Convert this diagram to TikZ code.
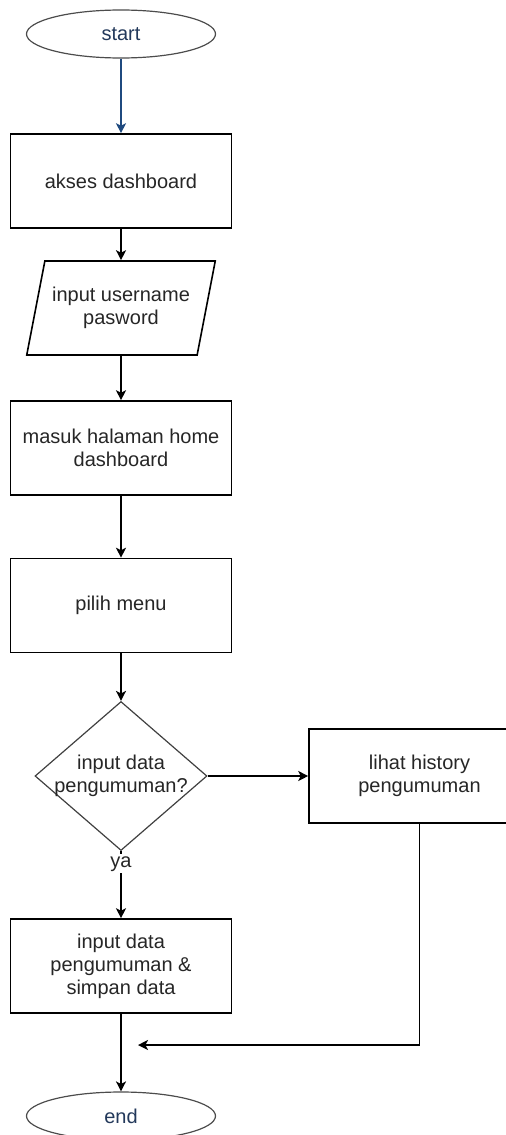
\documentclass[tikz,border=0pt]{standalone}
\usepackage{fontspec}
\setmainfont{Liberation Sans}
\usepackage{tikz}
\usetikzlibrary{shapes.geometric,arrows.meta}

\definecolor{termblue}{HTML}{23395B}
\definecolor{linkblue}{HTML}{1F4A7F}

\begin{document}
\begin{tikzpicture}[node distance=70pt,
    every node/.style={font=\fontsize{10pt}{11.5pt}\selectfont, text=black!85, align=center},
    >={Stealth[length=5pt,width=5pt,inset=1.3pt]},
    line width=0.8pt,
    terminal/.style={draw=black!70, line width=0.6pt, ellipse, minimum width=94.5pt, minimum height=24pt, inner sep=0pt, text=termblue},
    process/.style={draw, rectangle, minimum width=110.5pt, minimum height=47pt, inner sep=0pt},
    io/.style={draw, trapezium, trapezium left angle=68.5, trapezium right angle=111.5, trapezium stretches=true, minimum width=94.5pt, minimum height=47pt, inner sep=0pt},
    decision/.style={draw=black!75, line width=0.6pt, diamond, minimum width=86pt, minimum height=74.5pt, inner sep=0pt}]
    \useasboundingbox (0,0) rectangle (253pt,-567.5pt);

    % Nodes
    \node (start) [terminal] at (60.5pt,-17pt) {start};
    \node (akses) [process, below of=start, yshift=-3.5pt] {akses dashboard};
    \node (login) [io, below of=akses, yshift=6.5pt] {input username\\pasword};
    \node (home) [process, below of=login] {masuk halaman home\\dashboard};
    \node (menu) [process, below of=home, yshift=-8.75pt] {pilih menu};
    \node (cek) [decision, below of=menu, yshift=-15.25pt, label={center:input data\\pengumuman?}] {};
    \node (simpan) [process, below of=cek, yshift=-25pt] {input data\\pengumuman \&\\simpan data};
    \node (end) [terminal, below of=simpan, yshift=-5pt] {end};
    \node (history) [process, right of=cek, xshift=79.25pt] {lihat history\\pengumuman};
    \coordinate (merge) at (69pt,-522.5pt);

    % Arrows
    \draw[->, linkblue] (start) -- (akses);
    \draw[->] (akses) -- (login);
    \draw[->] (login) -- (home);
    \draw[->] (home) -- (menu);
    \draw[->] (menu) -- (cek);
    \draw[->] (cek) -- (history);
    \draw[->] (cek) -- node[pos=0.19, fill=white, inner sep=1pt] {ya} (simpan);
    \draw[->] (simpan) -- (end);
    \draw[->] (history.south) |- (merge);
\end{tikzpicture}
\end{document}
